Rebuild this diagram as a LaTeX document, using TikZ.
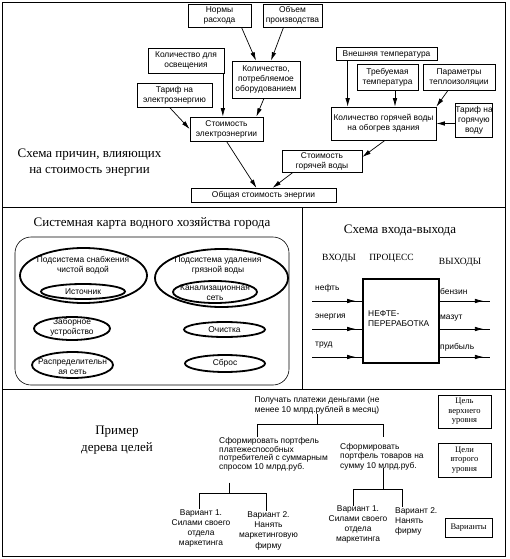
\documentclass[tikz,border=0pt]{standalone}
\usepackage{fontspec}
\setmainfont{Liberation Serif}
\setsansfont{Liberation Sans}
\usetikzlibrary{shapes.geometric,arrows.meta,decorations.markings}
\tikzset{
  frame/.style={line width=0.9pt},
  bx/.style={draw, line width=0.7pt, font=\sffamily\fontsize{8.4}{10}\selectfont, align=center, inner sep=0pt},
  arr/.style={line width=0.7pt, -{Latex[length=8.5pt,width=4.5pt]}},
  ttl/.style={font=\rmfamily\fontsize{13}{16}\selectfont, align=center, inner sep=0pt},
  oval/.style={ellipse, draw, line width=1.8pt, inner sep=0pt},
  tx/.style={font=\sffamily\fontsize{8.4}{10}\selectfont, align=center, inner sep=0pt},
  hd/.style={font=\rmfamily\fontsize{9.5}{11}\selectfont, inner sep=0pt},
  lg/.style={draw, line width=0.7pt, font=\rmfamily\fontsize{8.5}{9.5}\selectfont, align=center, inner sep=0pt},
  ioarr/.style={line width=0.7pt, postaction={decorate}, decoration={markings, mark=at position 0.87 with {\arrow{Latex[length=8.5pt,width=4.5pt]}}}},
  tree/.style={line width=0.7pt},
}
\begin{document}
\begin{tikzpicture}[x=1pt,y=-1pt]
\useasboundingbox (0,0) rectangle (509,559);
% frame
\draw[frame] (2,2) rectangle (505,556);
\draw[frame] (2,207) -- (505,207);
\draw[frame] (302,207) -- (302,389);
\draw[frame] (2,389) -- (505,389);

% ---------- top section ----------
\node[bx, minimum width=63pt, minimum height=23pt] (norms) at (219.5,15.5) {Нормы\\расхода};
\node[bx, minimum width=59pt, minimum height=23pt] (obem) at (292.5,15.5) {Объем\\производства};
\node[bx, minimum width=76pt, minimum height=25pt] (osv) at (186,60.5) {Количество для\\освещения};
\node[bx, minimum width=68pt, minimum height=37pt] (potr) at (266,79.5) {Количество,\\потребляемое\\оборудованием};
\node[bx, minimum width=75pt, minimum height=24pt] (tarifE) at (174.5,95) {Тариф на\\электроэнергию};
\node[bx, minimum width=73pt, minimum height=24pt] (stoimE) at (226.5,129) {Стоимость\\электроэнергии};
\node[bx, minimum width=101pt, minimum height=13pt] (vnesh) at (386.5,54) {Внешняя температура};
\node[bx, minimum width=61pt, minimum height=26pt] (treb) at (387.5,77) {Требуемая\\температура};
\node[bx, minimum width=72pt, minimum height=26pt] (param) at (459,77) {Параметры\\теплоизоляции};
\node[bx, minimum width=105pt, minimum height=33pt] (kolgv) at (383.5,123.5) {Количество горячей воды\\на обогрев здания};
\node[bx, minimum width=36pt, minimum height=34pt] (tarifG) at (474,120) {Тариф на\\горячую\\воду};
\node[bx, minimum width=80pt, minimum height=22pt] (stoimG) at (322,161) {Стоимость\\горячей воды};
\node[bx, minimum width=145pt, minimum height=14.5pt] (total) at (263.5,195.5) {Общая стоимость энергии};
\node[ttl] (t1) at (89.5,163) {Схема причин, влияющих\\на стоимость энергии};

\draw[arr] ([xshift=22pt]norms.south) -- ([xshift=-10pt]potr.north);
\draw[arr] ([xshift=-9pt]obem.south) -- ([xshift=5pt]potr.north);
\draw[arr] ([xshift=-1.5pt]osv.south east) -- ([xshift=-1.5pt]osv.south east |- stoimE.north);
\draw[arr] ([xshift=-2pt]potr.south) -- ([xshift=-7pt]stoimE.north east);
\draw[arr] ([xshift=-5pt]tarifE.south) -- (stoimE.west);
\draw[arr] (stoimE.south) -- ([xshift=-7pt]total.north);
\draw[arr] ([xshift=-29pt]stoimG.south) -- ([xshift=9pt]total.north);
\draw[arr] ([xshift=1.5pt]kolgv.south) -- ([yshift=4pt]stoimG.east);
\draw[arr] ([xshift=12pt]vnesh.south west) -- ([xshift=12pt]vnesh.south west |- kolgv.north);
\draw[arr] ([xshift=7.5pt]treb.south) -- ([xshift=7.5pt]treb.south |- kolgv.north);
\draw[arr] ([xshift=-11pt]param.south) -- (kolgv.north east);
\draw[arr] (tarifG.west |- kolgv.east) -- (kolgv.east);

% ---------- water system map ----------
\node[ttl] (t2) at (152,223) {Системная карта водного хозяйства города};
\node[draw, line width=0.6pt, rounded corners=16pt, minimum width=274pt, minimum height=148pt, inner sep=0pt] (city) at (152,311) {};
\node[oval, minimum width=127pt, minimum height=55pt] (eclean) at (83.5,275.5) {};
\node[tx] (tclean) at (83,265.5) {Подсистема снабжения\\чистой водой};
\node[oval, minimum width=84pt, minimum height=15pt] (esrc) at (83,291.5) {};
\node[tx] (tsrc) at (83,291.5) {Источник};
\node[oval, minimum width=133pt, minimum height=58pt] (edirty) at (221.5,278) {};
\node[tx] (tdirty) at (218,265.5) {Подсистема удаления\\грязной воды};
\node[oval, minimum width=84pt, minimum height=22pt] (ekan) at (215,292) {};
\node[tx] (tkan) at (215,293) {Канализационная\\сеть};
\node[oval, minimum width=76pt, minimum height=23pt] (ezab) at (72,328.5) {};
\node[tx] (tzab) at (72,327.5) {Заборное\\устройство};
\node[oval, minimum width=81pt, minimum height=15pt] (eoch) at (224.5,329.5) {};
\node[tx] (toch) at (224.5,329.5) {Очистка};
\node[oval, minimum width=81pt, minimum height=26pt] (eras) at (72.5,365) {};
\node[tx] (tras) at (72.5,366.5) {Распределительн\\ая сеть};
\node[oval, minimum width=80pt, minimum height=17pt] (esbr) at (225,363.5) {};
\node[tx] (tsbr) at (225,363) {Сброс};

% ---------- input-output ----------
\node[ttl] (t3) at (400,230) {Схема входа-выхода};
\node[hd] (hin) at (339,258) {ВХОДЫ};
\node[hd] (hproc) at (391.5,258) {ПРОЦЕСС};
\node[hd] (hout) at (460,262) {ВЫХОДЫ};
\node[draw, line width=1.6pt, minimum width=76pt, minimum height=84pt, inner sep=0pt] (proc) at (401,321) {};
\node[tx, align=left, anchor=west] (tproc) at (368,319) {НЕФТЕ-\\ПЕРЕРАБОТКА};
\coordinate (in1) at (312,301);
\coordinate (in2) at (312,329);
\coordinate (in3) at (312,357);
\coordinate (out1) at (490,301);
\coordinate (out2) at (490,329);
\coordinate (out3) at (490,357);
\draw[ioarr] (in1) -- (in1 -| proc.west);
\draw[ioarr] (in2) -- (in2 -| proc.west);
\draw[ioarr] (in3) -- (in3 -| proc.west);
\draw[ioarr] (out1 -| proc.east) -- (out1);
\draw[ioarr] (out2 -| proc.east) -- (out2);
\draw[ioarr] (out3 -| proc.east) -- (out3);
\node[tx, anchor=west] (lneft) at (315,288) {нефть};
\node[tx, anchor=west] (lener) at (315,317) {энергия};
\node[tx, anchor=west] (ltrud) at (315,345) {труд};
\node[tx, anchor=west] (lbenz) at (440,291) {бензин};
\node[tx, anchor=west] (lmaz) at (440,318) {мазут};
\node[tx, anchor=west] (lprib) at (440,347) {прибыль};

% ---------- goal tree ----------
\node[ttl, font=\rmfamily\fontsize{13}{17}\selectfont] (t4) at (117,440) {Пример\\дерева целей};
\node[tx] (goal) at (317,405) {Получать платежи деньгами (не\\менее 10 млрд.рублей в месяц)};
\node[tx, align=left, anchor=west, font=\sffamily\fontsize{8.4}{8.6}\selectfont] (g2a) at (219,454.5) {Сформировать портфель\\платежеспособных\\потребителей с суммарным\\спросом 10 млрд.руб.};
\node[tx, align=left, anchor=west, font=\sffamily\fontsize{8.4}{9.5}\selectfont] (g2b) at (340,456.5) {Сформировать\\портфель товаров на\\сумму 10 млрд.руб.};
\node[tx, font=\sffamily\fontsize{8.4}{10.3}\selectfont] (v1a) at (201,528.5) {Вариант 1.\\Силами своего\\отдела\\маркетинга};
\node[tx, font=\sffamily\fontsize{8.4}{10.3}\selectfont] (v2a) at (268.5,530.5) {Вариант 2.\\Нанять\\маркетинговую\\фирму};
\node[tx] (v1b) at (358,524.5) {Вариант 1.\\Силами своего\\отдела\\маркетинга};
\node[tx, align=left, anchor=west] (v2b) at (395,521) {Вариант 2.\\Нанять\\фирму};

\coordinate (j1) at (317,424);
\coordinate (j1a) at (257,424);
\coordinate (j1b) at (383,424);
\draw[tree] (goal.south) -- (goal.south |- j1);
\draw[tree] (j1a) -- (j1b);
\draw[tree] (j1a) -- (j1a |- g2a.north);
\draw[tree] (j1b) -- (j1b |- g2a.north);

\coordinate (j2a) at (229,493);
\coordinate (j2aL) at (199,493);
\coordinate (j2aR) at (266,493);
\draw[tree] ([yshift=-11pt]g2a.south -| j2a) -- (j2a);
\draw[tree] (j2aL) -- (j2aR);
\draw[tree] (j2aL) -- (j2aL |- v1a.north);
\draw[tree] (j2aR) -- (j2aR |- v2a.north);

\coordinate (j2b) at (383,489);
\coordinate (j2bL) at (353,489);
\coordinate (j2bR) at (402,489);
\draw[tree] ([yshift=2pt]g2b.south -| j2b) -- (j2b);
\draw[tree] (j2bL) -- (j2bR);
\draw[tree] (j2bL) -- (j2bL |- v1b.north);
\draw[tree] (j2bR) -- (j2bR |- v2b.north);

\node[lg, minimum width=53pt, minimum height=33pt] (lg1) at (464.5,411.5) {Цель\\верхнего\\уровня};
\node[lg, minimum width=53pt, minimum height=34pt] (lg2) at (464.5,460) {Цели\\второго\\уровня};
\node[lg, minimum width=47pt, minimum height=19pt] (lg3) at (468.5,527.5) {Варианты};
\end{tikzpicture}
\end{document}
